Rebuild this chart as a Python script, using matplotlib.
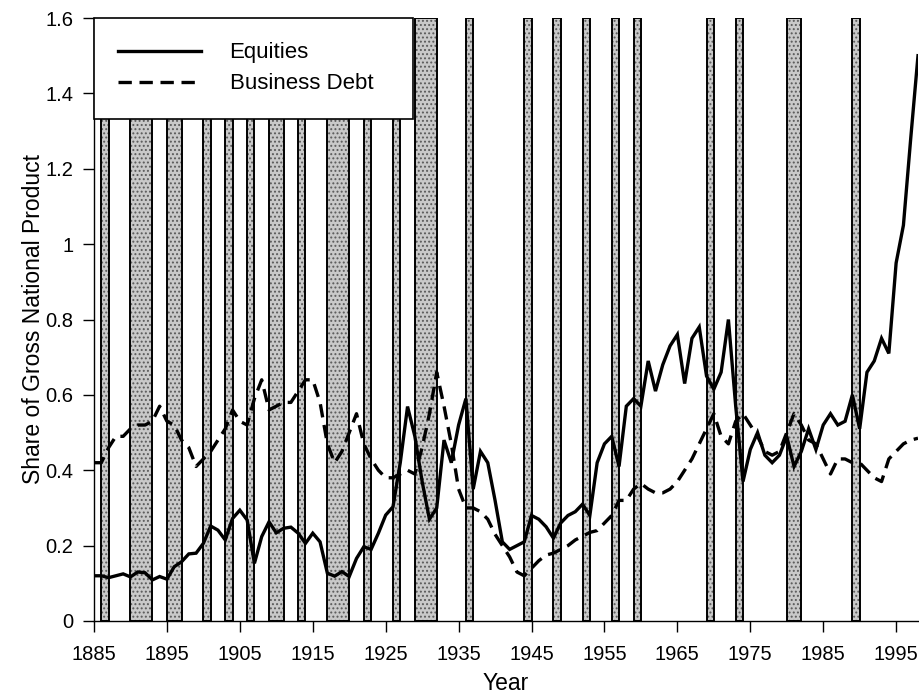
import matplotlib
matplotlib.use("Agg")
import matplotlib.pyplot as plt
from matplotlib import font_manager as fm

plt.rcParams['font.family'] = ['Liberation Sans', 'DejaVu Sans']
plt.rcParams['hatch.linewidth'] = 0.9

years = list(range(1885, 1999))

equities = [
    0.12, 0.12, 0.115, 0.12, 0.125, 0.117, 0.13, 0.128, 0.109, 0.118,   # 1885-1894
    0.111, 0.144, 0.157, 0.178, 0.18, 0.206, 0.252, 0.241, 0.215, 0.272, # 1895-1904
    0.294, 0.268, 0.153, 0.224, 0.263, 0.234, 0.246, 0.249, 0.233, 0.206, # 1905-1914
    0.233, 0.21, 0.127, 0.119, 0.131, 0.118, 0.166, 0.197, 0.19, 0.233,  # 1915-1924
    0.281, 0.303, 0.42, 0.569, 0.49, 0.37, 0.27, 0.30, 0.48, 0.42,        # 1925-1934
    0.52, 0.59, 0.35, 0.45, 0.42, 0.32, 0.21, 0.19, 0.20, 0.21,          # 1935-1944
    0.28, 0.27, 0.25, 0.22, 0.26, 0.28, 0.29, 0.31, 0.28, 0.42,          # 1945-1954
    0.47, 0.49, 0.41, 0.57, 0.59, 0.57, 0.69, 0.61, 0.68, 0.73,          # 1955-1964
    0.76, 0.63, 0.75, 0.78, 0.65, 0.615, 0.66, 0.80, 0.57, 0.37,         # 1965-1974
    0.455, 0.50, 0.44, 0.42, 0.44, 0.49, 0.41, 0.45, 0.51, 0.455,        # 1975-1984
    0.52, 0.55, 0.52, 0.53, 0.60, 0.51, 0.66, 0.69, 0.75, 0.71,          # 1985-1994
    0.95, 1.05, 1.28, 1.50,                                              # 1995-1998
]

business_debt = [
    0.42, 0.42, 0.46, 0.49, 0.49, 0.51, 0.52, 0.52, 0.53, 0.57,          # 1885-1894
    0.53, 0.52, 0.48, 0.46, 0.41, 0.43, 0.45, 0.48, 0.51, 0.56,          # 1895-1904
    0.53, 0.52, 0.59, 0.64, 0.56, 0.57, 0.58, 0.58, 0.61, 0.64,          # 1905-1914
    0.64, 0.58, 0.47, 0.42, 0.45, 0.50, 0.55, 0.47, 0.43, 0.40,          # 1915-1924
    0.38, 0.38, 0.39, 0.40, 0.39, 0.46, 0.55, 0.66, 0.57, 0.47,          # 1925-1934
    0.35, 0.30, 0.30, 0.29, 0.27, 0.23, 0.20, 0.17, 0.13, 0.12,          # 1935-1944
    0.14, 0.16, 0.175, 0.18, 0.19, 0.20, 0.215, 0.225, 0.235, 0.24,      # 1945-1954
    0.26, 0.28, 0.32, 0.32, 0.35, 0.365, 0.35, 0.34, 0.34, 0.35,         # 1955-1964
    0.37, 0.40, 0.43, 0.47, 0.51, 0.55, 0.49, 0.47, 0.53, 0.55,          # 1965-1974
    0.52, 0.49, 0.45, 0.44, 0.45, 0.50, 0.55, 0.52, 0.48, 0.47,          # 1975-1984
    0.43, 0.39, 0.43, 0.43, 0.42, 0.42, 0.40, 0.38, 0.37, 0.43,          # 1985-1994
    0.45, 0.47, 0.48, 0.485,                                             # 1995-1998
]

recession_starts = [1886, 1890, 1895, 1900, 1903, 1906, 1909, 1913, 1917, 1922, 1926,
                    1929, 1936, 1944, 1948, 1952, 1956, 1959, 1969, 1973, 1980, 1989]
recession_ends = [1887, 1893, 1897, 1901, 1904, 1907, 1911, 1914, 1920, 1923, 1927,
                  1932, 1937, 1945, 1949, 1953, 1957, 1960, 1970, 1974, 1982, 1990]

x_ticks = [1885, 1895, 1905, 1915, 1925, 1935, 1945, 1955, 1965, 1975, 1985, 1995]
y_ticks = [0, 0.2, 0.4, 0.6, 0.8, 1.0, 1.2, 1.4, 1.6]
y_tick_labels = ["0", "0.2", "0.4", "0.6", "0.8", "1", "1.2", "1.4", "1.6"]

# narrow face for tick labels if available
names = {f.name for f in fm.fontManager.ttflist}
has_narrow = 'Liberation Sans Narrow' in names
tick_family = ['Liberation Sans Narrow', 'Liberation Sans', 'DejaVu Sans'] if has_narrow \
    else ['Liberation Sans', 'DejaVu Sans']
tick_size = 16.5 if has_narrow else 14.5

fig = plt.figure(figsize=(9.2, 6.96), dpi=100)
ax = fig.add_axes([94/920, 75/696, 824/920, 603/696])

for s, e in zip(recession_starts, recession_ends):
    ax.axvspan(s, e, ymin=0, ymax=1, facecolor='#c9c9c9', edgecolor='#5a5a5a',
               hatch='....', linewidth=0, zorder=1)
    ax.axvspan(s, e, ymin=0, ymax=1, facecolor='none', edgecolor='black',
               linewidth=1.4, zorder=2)

ax.plot(years, equities, color='black', linewidth=2.4, solid_joinstyle='miter',
        label='Equities', zorder=4)
ax.plot(years, business_debt, color='black', linewidth=2.4, linestyle=(0, (4, 2.3)),
        label='Business Debt', zorder=4)

ax.set_xlim(1885, 1998)
ax.set_ylim(0, 1.6)
ax.set_xticks(x_ticks)
ax.set_xticklabels([str(t) for t in x_ticks])
ax.set_yticks(y_ticks)
ax.set_yticklabels(y_tick_labels)
ax.tick_params(axis='both', direction='out', length=8, width=1.0,
               color='black')
ax.tick_params(axis='x', pad=9)
ax.tick_params(axis='y', pad=7)
for lab in ax.get_xticklabels() + ax.get_yticklabels():
    lab.set_family(tick_family)
    lab.set_fontsize(tick_size)
for side in ['top', 'right']:
    ax.spines[side].set_visible(False)
for side in ['left', 'bottom']:
    ax.spines[side].set_linewidth(1.0)

ax.set_ylabel('Share of Gross National Product', fontsize=16.5)
ax.yaxis.set_label_coords(-0.06, 0.5)
ax.set_xlabel('Year', fontsize=16.5)
ax.xaxis.set_label_coords(0.5, -0.084)

leg = ax.legend(loc='upper left', bbox_to_anchor=(0.0, 0.842, 0.387, 0.158),
                mode='expand', frameon=True, fancybox=False, fontsize=16,
                handlelength=3.7, handletextpad=1.3, borderpad=1.1,
                labelspacing=0.45, borderaxespad=0)
leg.get_frame().set_edgecolor('black')
leg.get_frame().set_linewidth(1.2)
leg.get_frame().set_facecolor('white')
leg.get_frame().set_alpha(1)
leg.set_zorder(5)

fig.savefig('out.png', dpi=100)
